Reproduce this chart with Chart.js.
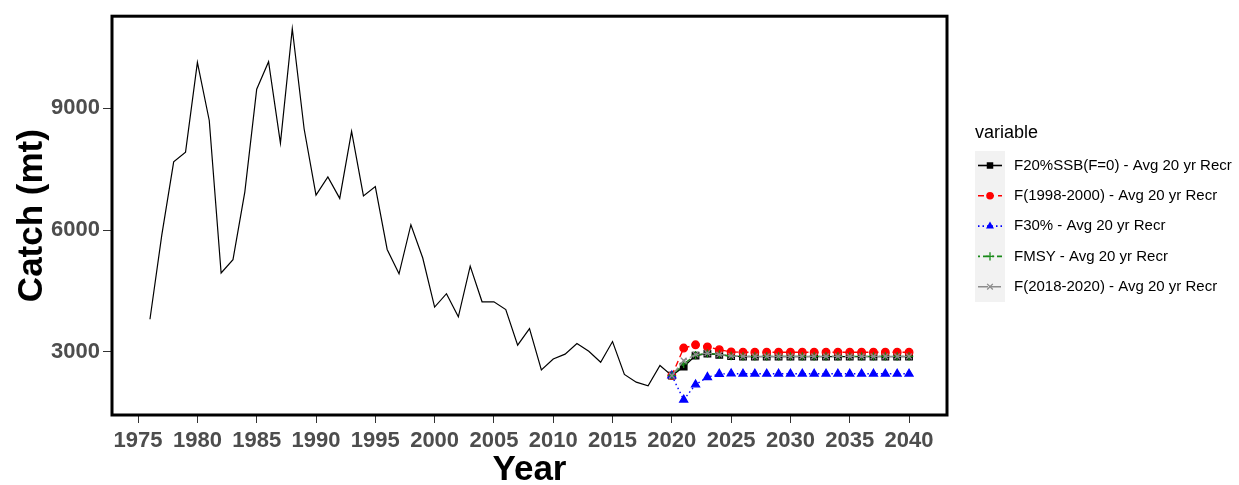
<!DOCTYPE html>
<html>
<head>
<meta charset="utf-8">
<script src="https://cdn.jsdelivr.net/npm/chart.js@4.4.1/dist/chart.umd.min.js"></script>
<style>
body { margin: 0; background: #fff; }
#wrap { width: 1239px; height: 485px; }
</style>
</head>
<body>
<div id="wrap"><canvas id="chartCatch" width="1239" height="485"></canvas></div>
<script>
var anosHist = [1976, 1977, 1978, 1979, 1980, 1981, 1982, 1983, 1984, 1985,
    1986, 1987, 1988, 1989, 1990, 1991, 1992, 1993, 1994, 1995,
    1996, 1997, 1998, 1999, 2000, 2001, 2002, 2003, 2004, 2005,
    2006, 2007, 2008, 2009, 2010, 2011, 2012, 2013, 2014, 2015,
    2016, 2017, 2018, 2019, 2020]
var catchHist = [3800, 5880, 7680, 7920, 10130, 8700, 4940, 5270, 6940, 9470,
    10150, 8140, 10960, 8490, 6860, 7310, 6780, 8430, 6840, 7070,
    5520, 4920, 6130, 5310, 4100, 4430, 3860, 5110, 4230, 4230,
    4040, 3160, 3570, 2550, 2820, 2940, 3200, 3010, 2740, 3250,
    2440, 2250, 2160, 2660, 2410]

var anosProj = [2020, 2021, 2022, 2023, 2024, 2025, 2026, 2027, 2028, 2029, 2030,
    2031, 2032, 2033, 2034, 2035, 2036, 2037, 2038, 2039, 2040]
var f20ssb = [2410, 2630, 2905, 2955, 2925, 2890, 2880, 2880, 2880, 2880, 2880,
    2880, 2880, 2880, 2880, 2880, 2880, 2880, 2880, 2880, 2880]
var f1998 = [2410, 3090, 3170, 3120, 3050, 2995, 2988, 2988, 2988, 2988, 2988,
    2988, 2988, 2988, 2988, 2988, 2988, 2988, 2988, 2988, 2988]
var f30 = [2410, 1815, 2190, 2370, 2450, 2460, 2455, 2455, 2455, 2455, 2455,
    2455, 2455, 2455, 2455, 2455, 2455, 2455, 2455, 2455, 2455]
var fmsy = [2410, 2700, 2915, 2960, 2930, 2895, 2885, 2885, 2885, 2885, 2885,
    2885, 2885, 2885, 2885, 2885, 2885, 2885, 2885, 2885, 2885]
var f2018 = [2410, 2780, 2930, 2965, 2930, 2895, 2885, 2885, 2885, 2885, 2885,
    2885, 2885, 2885, 2885, 2885, 2885, 2885, 2885, 2885, 2885]

var nomesSeries = ['F20%SSB(F=0) - Avg 20 yr Recr', 'F(1998-2000) - Avg 20 yr Recr',
    'F30% - Avg 20 yr Recr', 'FMSY - Avg 20 yr Recr', 'F(2018-2020) - Avg 20 yr Recr']
var ticksX = [1975, 1980, 1985, 1990, 1995, 2000, 2005, 2010, 2015, 2020, 2025, 2030, 2035, 2040]
var ticksY = [3000, 6000, 9000]

var fonte = '"Liberation Sans", Arial, sans-serif'

function pontos(xs, ys) {
    return xs.map(function (x, i) { return { x: x, y: ys[i] } })
}

function serie(nome, valores, cor, estilo, raio, traco, ordem) {
    return {
        label: nome,
        data: pontos(anosProj, valores),
        borderColor: cor,
        backgroundColor: cor,
        borderWidth: 1.4,
        borderDash: traco,
        pointStyle: estilo,
        pointRadius: raio,
        pointBorderWidth: 1.3,
        pointBorderColor: cor,
        pointBackgroundColor: cor,
        tension: 0,
        order: ordem
    }
}

var datasets = [
    {
        label: 'hist',
        data: pontos(anosHist, catchHist),
        borderColor: '#000',
        borderWidth: 1.2,
        pointRadius: 0,
        tension: 0,
        order: 10
    },
    serie(nomesSeries[0], f20ssb, '#000000', 'rect', 4.6, [], 5),
    serie(nomesSeries[1], f1998, '#ff0000', 'circle', 3.8, [6, 4], 4),
    serie(nomesSeries[2], f30, '#0000ff', 'triangle', 4.6, [1.5, 3], 3),
    serie(nomesSeries[3], fmsy, '#1a8a1a', 'cross', 4.2, [2, 3, 6, 3], 2),
    serie(nomesSeries[4], f2018, '#8c8c8c', 'crossRot', 4, [10, 3], 1)
]

function desenharMarcador(ctx, estilo, x, y, r, cor) {
    ctx.save()
    ctx.setLineDash([])
    ctx.fillStyle = cor
    ctx.strokeStyle = cor
    ctx.lineWidth = 1.3
    ctx.beginPath()
    if (estilo == 'rect') {
        var s = r * Math.SQRT1_2
        ctx.rect(x - s, y - s, 2 * s, 2 * s)
        ctx.fill()
    } else if (estilo == 'circle') {
        ctx.arc(x, y, r, 0, Math.PI * 2)
        ctx.fill()
    } else if (estilo == 'triangle') {
        ctx.moveTo(x, y - r)
        ctx.lineTo(x + r * 0.866, y + r * 0.5)
        ctx.lineTo(x - r * 0.866, y + r * 0.5)
        ctx.closePath()
        ctx.fill()
    } else if (estilo == 'cross') {
        ctx.moveTo(x - r, y); ctx.lineTo(x + r, y)
        ctx.moveTo(x, y - r); ctx.lineTo(x, y + r)
        ctx.stroke()
    } else {
        var d = r * Math.SQRT1_2
        ctx.moveTo(x - d, y - d); ctx.lineTo(x + d, y + d)
        ctx.moveTo(x - d, y + d); ctx.lineTo(x + d, y - d)
        ctx.stroke()
    }
    ctx.restore()
}

// borda do painel + legenda no estilo ggplot
var pluginExtras = {
    id: 'extras',
    afterDraw: function (chart) {
        var ctx = chart.ctx
        var a = chart.chartArea
        ctx.save()
        ctx.strokeStyle = '#000'
        ctx.lineWidth = 3
        ctx.strokeRect(a.left, a.top, a.right - a.left, a.bottom - a.top)

        ctx.fillStyle = '#000'
        ctx.font = '18px ' + fonte
        ctx.textBaseline = 'middle'
        ctx.textAlign = 'left'
        ctx.fillText('variable', 975, 133)

        ctx.fillStyle = '#f2f2f2'
        ctx.fillRect(975, 151, 30, 151)

        ctx.font = '15px ' + fonte
        for (var i = 1; i < chart.data.datasets.length; i++) {
            var ds = chart.data.datasets[i]
            var y = 165.5 + (i - 1) * 30.3
            ctx.save()
            ctx.strokeStyle = ds.borderColor
            ctx.lineWidth = 1.6
            ctx.setLineDash(ds.borderDash)
            ctx.beginPath()
            ctx.moveTo(978, y)
            ctx.lineTo(1002, y)
            ctx.stroke()
            ctx.restore()
            desenharMarcador(ctx, ds.pointStyle, 990, y, ds.pointRadius, ds.borderColor)
            ctx.fillStyle = '#000'
            ctx.fillText(ds.label, 1014, y)
        }
        ctx.restore()
    }
}

var ctxCatch = document.getElementById('chartCatch')

new Chart(ctxCatch, {
    type: 'line',
    data: { datasets: datasets },
    plugins: [pluginExtras],
    options: {
        responsive: false,
        animation: false,
        devicePixelRatio: 1,
        layout: { padding: { top: 12, right: 292, left: 0, bottom: 0 } },
        plugins: {
            legend: { display: false },
            tooltip: { enabled: false }
        },
        scales: {
            x: {
                type: 'linear',
                min: 1972.8,
                max: 2043.2,
                afterFit: function (scale) { scale.height = 70 },
                afterBuildTicks: function (scale) {
                    scale.ticks = ticksX.map(function (v) { return { value: v } })
                },
                grid: { drawOnChartArea: false, tickLength: 8, color: '#333', lineWidth: 1 },
                border: { display: false },
                ticks: {
                    padding: 5,
                    maxRotation: 0,
                    autoSkip: false,
                    color: '#4d4d4d',
                    font: { family: fonte, size: 22, weight: 'bold' },
                    callback: function (v) { return String(v) }
                },
                title: {
                    display: true,
                    text: 'Year',
                    color: '#000',
                    padding: 0,
                    font: { family: fonte, size: 35, weight: 'bold', lineHeight: 0.85 }
                }
            },
            y: {
                min: 1440,
                max: 11270,
                afterFit: function (scale) { scale.width = 112 },
                afterBuildTicks: function (scale) {
                    scale.ticks = ticksY.map(function (v) { return { value: v } })
                },
                grid: { drawOnChartArea: false, tickLength: 9, color: '#333', lineWidth: 1 },
                border: { display: false },
                ticks: {
                    padding: 3,
                    color: '#4d4d4d',
                    font: { family: fonte, size: 22, weight: 'bold' },
                    callback: function (v) { return String(v) }
                },
                title: {
                    display: true,
                    text: 'Catch (mt)',
                    color: '#000',
                    padding: { top: 15, bottom: 0 },
                    font: { family: fonte, size: 35, weight: 'bold', lineHeight: 1 }
                }
            }
        }
    }
})
</script>
</body>
</html>
